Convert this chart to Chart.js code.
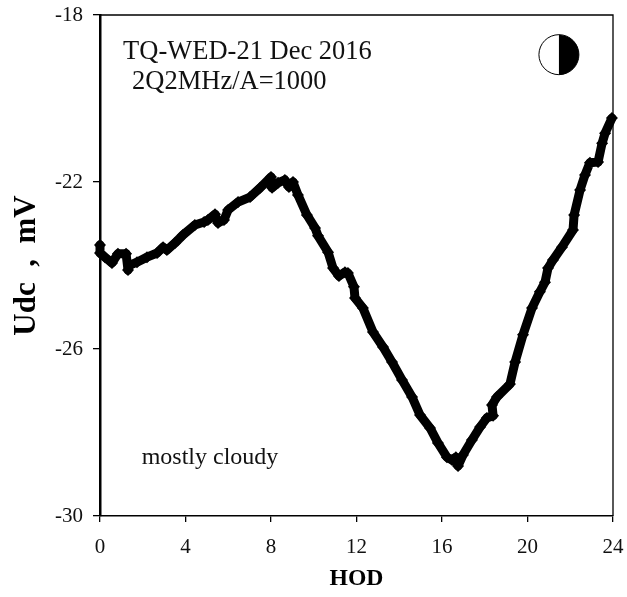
<!DOCTYPE html>
<html><head><meta charset="utf-8">
<style>html,body{margin:0;padding:0;background:#fff}canvas{display:block}</style>
<script src="https://cdn.jsdelivr.net/npm/chart.js@4"></script>
</head><body><canvas id="c" width="627" height="597"></canvas>
<script>
const hours=[0,0,0.23,0.56,0.84,1.22,1.31,1.40,1.73,2.20,2.67,2.95,3.13,3.51,3.88,4.44,4.87,5.05,5.38,5.52,5.80,5.99,6.46,7.02,7.49,8.00,8.05,8.33,8.65,8.84,9.03,9.26,9.68,10.06,10.2,10.67,10.90,11.18,11.46,11.60,11.88,11.93,12.30,12.77,13.24,13.66,14.13,14.60,14.97,15.44,15.81,16.23,16.47,16.65,16.75,16.98,17.40,17.78,18.10,18.39,18.34,18.57,19.18,19.42,19.79,20.21,20.58,20.82,20.96,21.19,21.61,22.13,22.18,22.46,22.69,22.92,23.30,23.49,23.63,23.95];
const udc=[-23.51,-23.70,-23.80,-23.94,-23.72,-23.72,-24.11,-23.99,-23.92,-23.80,-23.70,-23.56,-23.63,-23.46,-23.27,-23.03,-22.96,-22.91,-22.77,-22.98,-22.91,-22.67,-22.48,-22.36,-22.14,-21.88,-22.14,-22.02,-21.95,-22.12,-22.00,-22.31,-22.79,-23.10,-23.29,-23.68,-24.06,-24.25,-24.16,-24.18,-24.51,-24.78,-25.02,-25.59,-25.95,-26.31,-26.74,-27.15,-27.58,-27.89,-28.25,-28.59,-28.66,-28.59,-28.80,-28.54,-28.18,-27.87,-27.65,-27.60,-27.34,-27.15,-26.84,-26.31,-25.66,-25.02,-24.63,-24.40,-24.06,-23.87,-23.56,-23.15,-22.79,-22.19,-21.83,-21.54,-21.52,-21.07,-20.83,-20.47];
const xTicks=[0,4,8,12,16,20,24];
const yTicks=[-18,-22,-26,-30];
const notes=[
 {text:"TQ-WED-21 Dec 2016",h:1.08,v:-18.89,size:26.5},
 {text:"2Q2MHz/A=1000",h:1.5,v:-19.6,size:26.5},
 {text:"mostly cloudy",h:1.95,v:-28.61,size:24}
];
const moon={h:21.47,v:-18.95};
const serif='"Liberation Serif","Times New Roman",serif';
const extras={id:'extras',
 afterDraw(ch){
  const {ctx,chartArea:a,scales:{x,y}}=ch;
  ctx.save();
  ctx.strokeStyle='#000';ctx.lineWidth=1.3;
  ctx.beginPath();ctx.moveTo(a.left,a.top);ctx.lineTo(a.right,a.top);ctx.lineTo(a.right,a.bottom);ctx.stroke();
  ctx.fillStyle='#111';ctx.textBaseline='middle';ctx.textAlign='left';
  notes.forEach(n=>{ctx.font=n.size+'px '+serif;ctx.fillText(n.text,x.getPixelForValue(n.h),y.getPixelForValue(n.v));});
  const mx=x.getPixelForValue(moon.h),my=y.getPixelForValue(moon.v),r=20;
  ctx.fillStyle='#fff';ctx.beginPath();ctx.arc(mx,my,r,0,Math.PI*2);ctx.fill();
  ctx.fillStyle='#000';ctx.beginPath();ctx.arc(mx,my,r,-Math.PI/2,Math.PI/2);ctx.closePath();ctx.fill();
  ctx.lineWidth=1;ctx.beginPath();ctx.arc(mx,my,r,0,Math.PI*2);ctx.stroke();
  ctx.restore();
 }};
new Chart(document.getElementById('c'),{
 type:'scatter',
 data:{datasets:[{data:hours.map((h,i)=>({x:h,y:udc[i]})),showLine:true,borderColor:'#000',borderWidth:9,backgroundColor:'#000',
   pointStyle:'rectRot',pointRadius:6,pointBorderWidth:0,tension:0,clip:false,borderJoinStyle:'round',borderCapStyle:'round'}]},
 options:{responsive:false,animation:false,devicePixelRatio:1,
  layout:{padding:{top:15,right:14,left:0,bottom:0}},
  plugins:{legend:{display:false},tooltip:{enabled:false}},
  scales:{
   x:{type:'linear',min:0,max:24,
    afterBuildTicks(s){s.ticks=xTicks.map(v=>({value:v}));},
    afterFit(s){s.height=81;s.paddingLeft=0;s.paddingRight=0;},
    grid:{display:true,drawOnChartArea:false,drawTicks:true,tickLength:6,color:'#000',lineWidth:1.3},
    border:{display:true,color:'#000',width:1.5},
    ticks:{color:'#111',font:{family:serif,size:21},padding:13,maxRotation:0,autoSkip:false},
    title:{display:true,text:'HOD',color:'#000',font:{family:serif,size:23.7,weight:'bold'},padding:{top:8,bottom:4}}},
   y:{type:'linear',min:-30,max:-18,
    afterBuildTicks(s){s.ticks=yTicks.map(v=>({value:v}));},
    afterFit(s){s.width=100;s.paddingTop=0;s.paddingBottom=0;},
    grid:{display:true,drawOnChartArea:false,drawTicks:true,tickLength:7,color:'#000',lineWidth:1.3},
    border:{display:true,color:'#000',width:2.5},
    ticks:{color:'#111',font:{family:serif,size:21},padding:10,autoSkip:false},
    title:{display:true,text:'Udc  ,  mV',color:'#000',font:{family:serif,size:31,weight:'bold'},padding:{top:8,bottom:0}}}
  }},
 plugins:[extras]
});
</script></body></html>
